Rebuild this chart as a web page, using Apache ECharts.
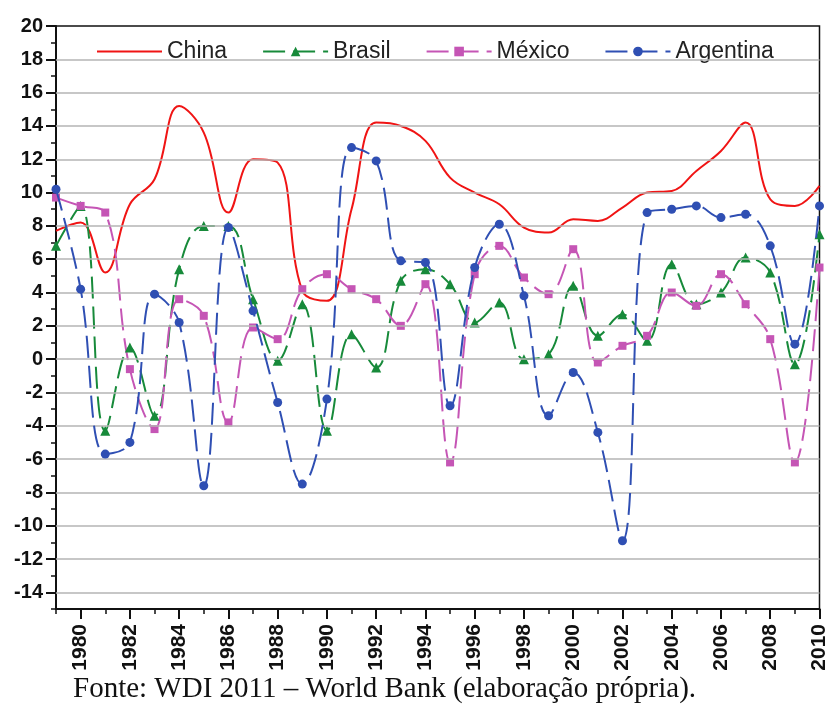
<!DOCTYPE html>
<html>
<head>
<meta charset="utf-8">
<script src="https://cdn.jsdelivr.net/npm/echarts@6/dist/echarts.min.js"></script>
<style>
html,body{margin:0;padding:0;background:#fff;}
#c{width:830px;height:706px;}
</style>
</head>
<body>
<div id="c"></div>
<script>
const years = [1979,1980,1981,1982,1983,1984,1985,1986,1987,1988,1989,1990,1991,1992,1993,1994,1995,1996,1997,1998,1999,2000,2001,2002,2003,2004,2005,2006,2007,2008,2009,2010];
const china = [7.7,8.2,5.2,9.3,10.8,15.2,13.6,8.8,12.0,11.8,4.1,3.5,9.0,14.2,14.0,13.1,10.9,10.0,9.3,7.9,7.6,8.4,8.3,9.1,10.0,10.1,11.3,12.5,14.2,9.6,9.2,10.4];
const brasil = [6.8,9.2,-4.3,0.7,-3.4,5.4,8.0,8.0,3.6,-0.1,3.3,-4.3,1.5,-0.5,4.7,5.4,4.5,2.2,3.4,0.0,0.3,4.4,1.4,2.7,1.1,5.7,3.3,4.0,6.1,5.2,-0.3,7.5];
const mexico = [9.7,9.2,8.8,-0.6,-4.2,3.6,2.6,-3.8,1.9,1.2,4.2,5.1,4.2,3.6,2.0,4.5,-6.2,5.1,6.8,4.9,3.9,6.6,-0.2,0.8,1.4,4.0,3.2,5.1,3.3,1.2,-6.2,5.5];
const argentina = [10.2,4.2,-5.7,-5.0,3.9,2.2,-7.6,7.9,2.9,-2.6,-7.5,-2.4,12.7,11.9,5.9,5.8,-2.8,5.5,8.1,3.8,-3.4,-0.8,-4.4,-10.9,8.8,9.0,9.2,8.5,8.7,6.8,0.9,9.2];
const yTicks = [-14,-12,-10,-8,-6,-4,-2,0,2,4,6,8,10,12,14,16,18,20];
const xTicks = [1980,1982,1984,1986,1988,1990,1992,1994,1996,1998,2000,2002,2004,2006,2008,2010];
const seriesNames = ['China','Brasil','México','Argentina'];

const pair = arr => years.map((y,i)=>[y,arr[i]]);
const chart = echarts.init(document.getElementById('c'), null, {renderer:'canvas'});
const dash = [22, 8];
const yFont = {fontFamily:'Arial, "Liberation Sans", sans-serif', fontWeight:'bold', fontSize:20, color:'#111'};
const xFont = {fontFamily:'Arial, "Liberation Sans", sans-serif', fontWeight:'bold', fontSize:21, color:'#111'};
const sm = 0.4;
chart.setOption({
  animation:false,
  backgroundColor:'#fff',
  grid:{left:56,right:8,top:26,bottom:97,show:true,borderColor:'#111',borderWidth:1.5,backgroundColor:'transparent'},
  legend:{
    top:35,left:92,itemWidth:65,itemHeight:12,itemGap:35,
    data:seriesNames.map((n,i)=>{
      const d = {name:n};
      if(i===0){ d.icon = 'path://M0,0 L65,0 L65,2.2 L0,2.2 Z'; }
      return d;
    }),
    textStyle:{fontFamily:'Arial, "Liberation Sans", sans-serif',fontSize:23,color:'#222'}
  },
  xAxis:[{
    type:'value',min:1979,max:2010,position:'bottom',
    axisLine:{show:true,onZero:false,lineStyle:{color:'#111',width:2}},
    axisTick:{show:true,length:10,customValues:xTicks,lineStyle:{color:'#111',width:2}},
    axisLabel:{show:true,customValues:xTicks,rotate:90,margin:15,formatter:v=>String(v),...xFont},
    splitLine:{show:false}
  },{
    type:'value',min:1979,max:2010,interval:1,position:'bottom',
    axisLine:{show:false,onZero:false},
    axisTick:{show:true,length:5,lineStyle:{color:'#111',width:1.5}},
    axisLabel:{show:false},splitLine:{show:false}
  }],
  yAxis:[{
    type:'value',min:-15,max:20,
    axisLine:{show:true,onZero:false,lineStyle:{color:'#111',width:2}},
    axisTick:{show:true,length:10,customValues:yTicks,lineStyle:{color:'#111',width:2}},
    axisLabel:{show:true,customValues:yTicks,margin:13,...yFont},
    splitLine:{show:false}
  },{
    type:'value',min:-15,max:20,interval:1,position:'left',
    axisLine:{show:false,onZero:false},
    axisTick:{show:true,length:5,lineStyle:{color:'#111',width:1.5}},
    axisLabel:{show:false},splitLine:{show:false}
  }],
  series:[
    {name:'grid',type:'line',data:[],silent:true,z:0,
     markLine:{silent:true,symbol:'none',label:{show:false},animation:false,
       lineStyle:{color:'#b4b4b4',width:1.5,type:'solid'},
       data:yTicks.filter(v=>v<20).map(v=>({yAxis:v}))}},
    {name:'China',type:'line',data:pair(china),smooth:sm,showSymbol:false,symbol:'none',
     lineStyle:{color:'#f01414',width:2},itemStyle:{color:'#f01414'},z:3},
    {name:'Brasil',type:'line',data:pair(brasil),smooth:sm,symbol:'triangle',symbolSize:10,
     lineStyle:{color:'#178a3a',width:2,type:dash},itemStyle:{color:'#178a3a'},z:4},
    {name:'México',type:'line',data:pair(mexico),smooth:sm,symbol:'rect',symbolSize:8,
     lineStyle:{color:'#c555b5',width:2,type:dash},itemStyle:{color:'#c555b5'},z:4},
    {name:'Argentina',type:'line',data:pair(argentina),smooth:sm,symbol:'circle',symbolSize:9,
     lineStyle:{color:'#2f4fb3',width:2,type:dash},itemStyle:{color:'#2f4fb3'},z:5}
  ],
  graphic:[{type:'text',left:73,top:675,style:{text:'Fonte: WDI 2011 – World Bank (elaboração própria).',
    font:'29px "Liberation Serif", "Times New Roman", serif',fill:'#111'}}]
});
</script>
</body>
</html>
